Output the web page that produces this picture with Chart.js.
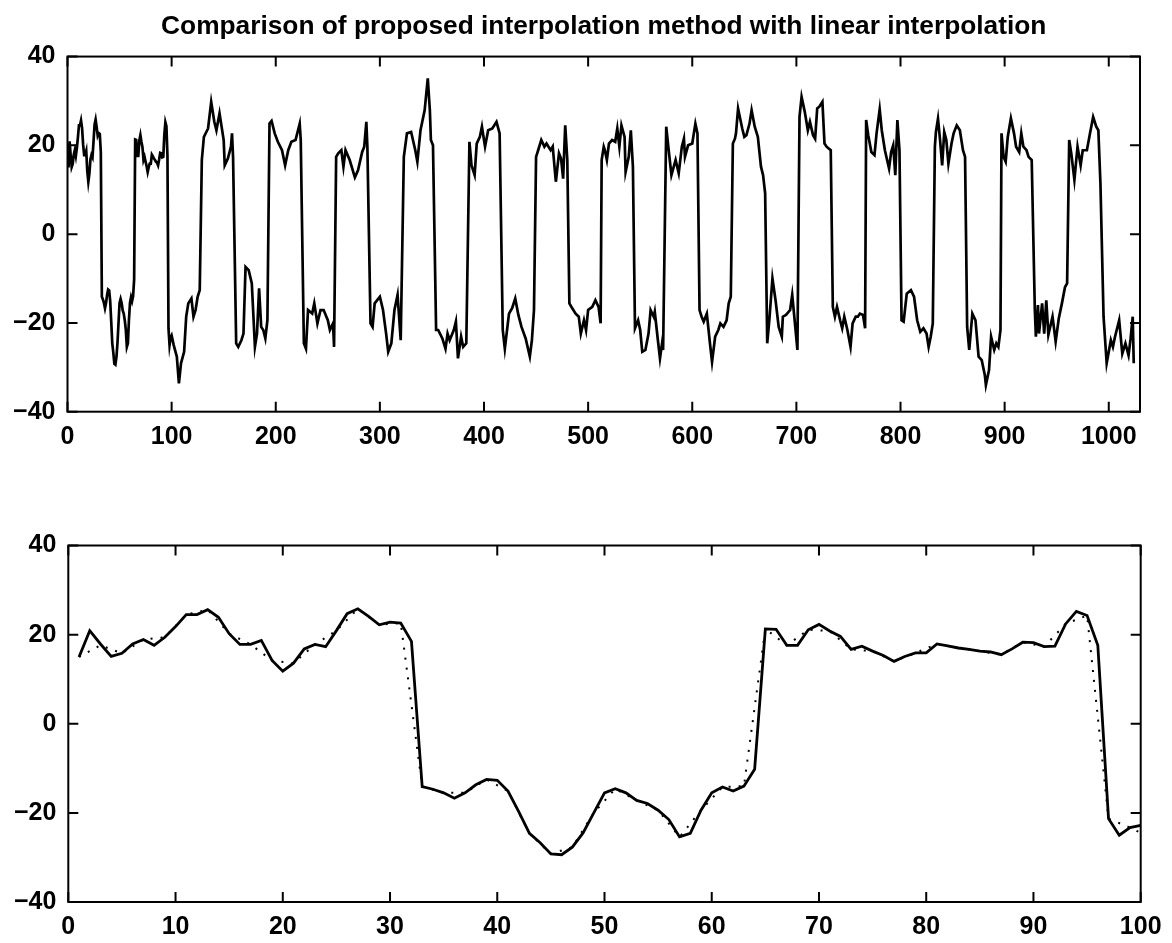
<!DOCTYPE html>
<html>
<head>
<meta charset="utf-8">
<script src="https://cdn.jsdelivr.net/npm/chart.js@4.4.1/dist/chart.umd.min.js"></script>
<style>
  body { margin: 0; background: #fff; }
  canvas { position: absolute; left: 0; }
  #topChart { top: 0; }
  #bottomChart { top: 470px; }
</style>
</head>
<body>
<canvas id="topChart" width="1172" height="470"></canvas>
<canvas id="bottomChart" width="1172" height="473"></canvas>
<script>
// first 100 samples (bottom plot, solid = proposed method)
const sampleY = [15, 20.9, 17.9, 15.1, 15.8, 17.9, 18.9, 17.6, 19.4, 21.8,
  24.5, 24.5, 25.6, 23.9, 20.2, 17.8, 17.8, 18.7, 14.2, 11.8,
  13.6, 16.8, 17.8, 17.3, 20.9, 24.7, 25.8, 24.1, 22.2, 22.8,
  22.6, 18.5, -14.1, -14.7, -15.5, -16.7, -15.5, -13.7, -12.5, -12.7,
  -15.1, -19.7, -24.6, -26.7, -29.2, -29.4, -27.7, -24.5, -20, -15.5,
  -14.6, -15.5, -17.2, -17.9, -19.4, -21.5, -25.4, -24.6, -19.4, -15.5,
  -14.2, -15.1, -14, -10.2, 21.3, 21.2, 17.6, 17.6, 21.1, 22.3,
  20.8, 19.6, 16.7, 17.4, 16.3, 15.3, 14, 15.1, 15.9, 15.9,
  17.9, 17.5, 17, 16.7, 16.3, 16.1, 15.5, 16.8, 18.3, 18.2,
  17.3, 17.4, 22.4, 25.2, 24.3, 17.6, -21.3, -25, -23.3, -22.8];
const sampleX = sampleY.map((v, i) => i + 1);

// linear interpolation through every second sample (dotted)
const linX = [1, 3, 5, 7, 9, 11, 13, 15, 17, 19, 21, 23, 25, 27, 29, 31, 33, 35, 37, 39,
  41, 43, 45, 47, 49, 51, 53, 55, 57, 59, 61, 63, 65, 67, 69, 71, 73, 75, 77, 79,
  81, 83, 85, 87, 89, 91, 93, 95, 97, 99, 100];
const linY = [15, 17.6, 15.8, 18.9, 19.4, 24.5, 25.6, 20.2, 17.8, 14.2, 13.6, 17.8, 20.9, 25.8, 22.2, 22.6, -14.1, -15.5, -15.5, -12.5,
  -15.1, -24.6, -29.2, -27.7, -20, -14.6, -17.2, -19.4, -25.4, -19.4, -14.2, -14, 21.3, 17.6, 21.1, 20.8, 16.7, 16.3, 14, 15.9,
  17.9, 17, 16.3, 15.5, 18.3, 17.3, 22.4, 24.3, -21.3, -23.3, -24.5];

// rest of the full signal (top plot), read at its turning points
const restX = [
  102, 105, 107, 109, 112, 114, 116, 119, 121, 123, 125, 127,
  129, 131, 135, 138, 141, 143, 146, 150, 151, 154, 157, 158, 159,
  162, 164, 167, 169, 171, 174, 177, 180, 182, 184, 186, 188, 190, 192,
  194, 196, 199, 202, 206, 209, 212, 215, 219, 223, 224,
  227, 229, 231, 235, 237, 240, 243, 246, 250, 252, 255, 256,
  258, 260, 263, 265, 267, 271, 276, 279, 283, 285, 287, 288,
  291, 293, 295, 300, 303, 306, 308, 311, 314, 317, 318, 320,
  323, 326, 330, 334, 336, 339, 342, 343, 346, 348, 349, 351,
  354, 356, 360, 363, 365, 367, 371, 373, 375, 378, 380, 383,
  386, 388, 391, 393, 396, 398, 401, 404, 408, 412, 415,
  418, 420, 424, 427, 430, 433, 436, 440, 444, 446, 448,
  450, 452, 455, 458, 460, 464, 466, 469, 472, 474, 476, 478, 480,
  482, 484, 488, 491, 493, 496, 498, 500, 504, 507, 510, 512,
  513, 515, 516, 518, 520, 523, 526, 528, 530, 532, 535, 536, 539, 541, 543,
  545, 548, 550, 552, 555, 558, 560, 563, 564, 567, 569, 571, 572,
  575, 577, 580, 584, 587, 590, 592, 593, 596, 600, 603, 605,
  607, 609, 611, 614, 617, 619, 622, 625, 627, 630, 633, 635, 637,
  639, 641, 642, 644, 648, 650, 652, 655, 657, 660, 663, 666, 668, 670,
  672, 674, 677, 680, 683, 686, 687, 690, 694, 696, 698, 701,
  703, 705, 708, 711, 713, 716, 718, 720, 722, 725, 727, 729, 733,
  735, 737, 739, 742, 744, 746, 749, 752, 754, 757, 759, 761, 764, 766,
  767, 769, 772, 775, 777, 780, 782, 785, 789, 791, 793, 795, 797, 799,
  801, 803, 806, 810, 813, 816, 819, 822, 825, 827, 829, 831,
  833, 834, 836, 838, 840, 842, 844, 846, 849, 851, 854, 857, 860, 862,
  864, 866, 869, 872, 875, 878, 881, 882, 885, 887, 890, 892, 894, 896,
  897, 899, 901, 903, 906, 909, 911, 914, 916, 918, 921, 923, 926,
  929, 930, 932, 933, 936, 938, 940, 942, 946, 949, 952, 955, 958, 960,
  962, 964, 967, 970, 973, 975, 979, 982, 985, 988, 990, 992,
  995, 998, 1002, 1004, 1006, 1010, 1013, 1016, 1019, 1021, 1023, 1024];
const restY = [
  -25, -27.6, -33.6, -29.1, -26.5, -18.6, -15.6, -14.5, -18.6, -17.1, -14.1, -12.6,
  16.7, 21.9, 23.8, 29.8, 25.3, 23.4, 27.2, 21.2, 15.5, 17, 19.7, 22.7, 17.4,
  -24.6, -25.4, -23.9, -22.4, -7.4, -8.1, -11.1, -25.4, -22.4, -12.2, -20.9, -21.6, -23.5, -19.4,
  24.9, 25.5, 22.7, 20.8, 18.9, 15.5, 18.9, 20.8, 21.2, 24.9, 21.2,
  -24.6, -25.8, -17.1, -17.9, -15.6, -20.1, -17.1, -17.1, -19.4, -21.6, -20.1, -25.4,
  17.4, 18.2, 18.9, 15.2, 18.9, 16.7, 12.8, 14.4, 18.5, 19.7, 25.3, 19.7,
  -20.1, -20.9, -15.6, -14.1, -17.1, -22.4, -26.5, -24.6, -17.1, -13.7, -17.1, -23.9,
  17.4, 22.7, 23, 18.9, 16.3, 23.4, 26.8, 27.9, 35.1, 27.9, 21.2, 20,
  -21.6, -21.6, -23.5, -25.8, -22.4, -23.9, -21.6, -19.7, -28, -23.1, -25.4, -24.6,
  20.8, 15.5, 13.3, 20.4, 21.9, 24.2, 19.7, 23.4, 23.8, 25.3, 22.7,
  -21.6, -25.8, -17.9, -16.7, -14.5, -18.2, -20.9, -23.5, -27.6, -23.9, -17.1,
  17.4, 18.9, 21.2, 19.7, 20.4, 18.9, 19.7, 11.8, 18.2, 17, 12.5, 24.5, 16.7,
  -15.6, -16.4, -17.9, -18.6, -22.4, -19.4, -21.6, -17.1, -16.4, -14.9, -16.4, -20.1,
  16.7, 19.7, 19, 16.7, 20.4, 21.2, 20.8, 23.8, 19.7, 24.5, 21.9, 14, 17.4, 23.4, 15.2,
  -21.2, -19.4, -21.6, -26.5, -26.1, -22.4, -17.1, -18.6, -17.5, -23.9, -28, -24.6, -26.1,
  24.2, 19.7, 13.3, 16.7, 13.7, 19.7, 21.5, 17.4, 20, 20.4, 24.9, 22.7,
  -17.1, -18.6, -19.7, -17.9, -24.6, -28.8, -23.1, -21.6, -20.1, -20.9, -19.4, -15.6, -14.1,
  20.4, 21.5, 22.7, 28.3, 23.8, 21.9, 22.3, 24.9, 27.9, 24.2, 21.9, 15.2, 13.3, 9.2,
  -24.6, -19.4, -10, -14.9, -20.9, -23.1, -18.6, -18.2, -17.1, -13.7, -18.6, -26.1,
  26.4, 30.9, 27.6, 23.4, 25.3, 22.3, 21.5, 28.3, 28.7, 29.8, 20.4, 19.7, 18.9,
  -16.4, -18.6, -16.4, -19.4, -21.2, -18.6, -21.6, -25.4, -20.1, -18.6, -18.6, -17.9, -18.2, -21.2,
  25.7, 22.3, 18.5, 17.8, 22.7, 28.1, 23.4, 18.9, 14.8, 18.5, 20, 13.3, 25.7, 18.9,
  -19.4, -19.7, -13.4, -12.6, -14.1, -19.4, -22, -21.2, -22.4, -25.4, -23.1, -20.1,
  19.7, 23, 26, 21.2, 15.5, 23, 21.2, 15.9, 20.4, 22.7, 24.5, 23.4, 18.9, 17.4,
  -20.9, -26.1, -17.9, -19.4, -27.6, -28.4, -31.8, -34, -30.6, -23.1, -26.1, -24.6, -25.4, -21.6,
  22.7, 17.4, 16.3, 21.9, 26.1, 22.7, 19.7, 18.5, 22.7, 19.7, 18.9, 17.4, 16.7,
  -17.1, -23.1, -16, -22.4, -15.6, -22.4, -14.9, -22.7, -18.6, -24.2, -19, -15.6, -11.9, -11.1,
  21.2, 18.2, 12.2, 19.7, 15.5, 18.9, 18.9, 22.7, 26.4, 24.2, 23.4, 11.4,
  -18.6, -29.1, -23.9, -25.4, -23.1, -19.4, -26.9, -24.6, -27.3, -23.5, -18.6, -29.1];

const yTicks = [-40, -20, 0, 20, 40];
const topXTicks = [0, 100, 200, 300, 400, 500, 600, 700, 800, 900, 1000];
const bottomXTicks = [0, 10, 20, 30, 40, 50, 60, 70, 80, 90, 100];

const titleText = "Comparison of proposed interpolation method with linear interpolation";
const fontFamily = "'Liberation Sans', Arial, Helvetica, sans-serif";

function toPoints(xs, ys) {
  return xs.map((x, i) => ({ x: x, y: ys[i] }));
}

// plain numbers, with a real minus sign like the original print
function tickText(v) {
  return v < 0 ? "\u2212" + Math.abs(v) : String(v);
}

// matlab style box with ticks pointing inward on all four sides
const boxTicks = {
  id: "boxTicks",
  afterDraw(chart) {
    const { ctx, chartArea: a, scales } = chart;
    const len = 10;
    ctx.save();
    ctx.strokeStyle = "#000";
    ctx.lineWidth = 2;
    ctx.strokeRect(a.left, a.top, a.right - a.left, a.bottom - a.top);
    ctx.beginPath();
    scales.x.ticks.forEach((t) => {
      const px = scales.x.getPixelForValue(t.value);
      ctx.moveTo(px, a.bottom);
      ctx.lineTo(px, a.bottom - len);
      ctx.moveTo(px, a.top);
      ctx.lineTo(px, a.top + len);
    });
    scales.y.ticks.forEach((t) => {
      const py = scales.y.getPixelForValue(t.value);
      ctx.moveTo(a.left, py);
      ctx.lineTo(a.left + len, py);
      ctx.moveTo(a.right, py);
      ctx.lineTo(a.right - len, py);
    });
    ctx.stroke();
    ctx.restore();
  },
};

function axes(xMax, xTicks, yWidth, xHeight) {
  const tickFont = { family: fontFamily, size: 25, weight: "bold" };
  return {
    x: {
      type: "linear",
      min: 0,
      max: xMax,
      grid: { display: false, drawTicks: false },
      border: { display: false },
      ticks: {
        color: "#000", font: tickFont, padding: 10, maxRotation: 0, autoSkip: false,
        callback: tickText,
      },
      afterBuildTicks: (s) => { s.ticks = xTicks.map((v) => ({ value: v })); },
      afterFit: (s) => { s.height = xHeight; },
    },
    y: {
      type: "linear",
      min: -40,
      max: 40,
      grid: { display: false, drawTicks: false },
      border: { display: false },
      ticks: { color: "#000", font: tickFont, padding: 12, callback: tickText },
      afterBuildTicks: (s) => { s.ticks = yTicks.map((v) => ({ value: v })); },
      afterFit: (s) => { s.width = yWidth; },
    },
  };
}

new Chart(document.getElementById("topChart"), {
  type: "line",
  data: {
    datasets: [
      {
        data: toPoints(sampleX.concat(restX), sampleY.concat(restY)),
        borderColor: "#000",
        borderWidth: 2.7,
        pointRadius: 0,
        tension: 0,
      },
    ],
  },
  options: {
    responsive: false,
    animation: false,
    layout: { padding: { left: 0, right: 32, top: 0, bottom: 0 } },
    plugins: {
      legend: { display: false },
      tooltip: { enabled: false },
      title: {
        display: true,
        fullSize: false, // centre over the plot box, not the whole canvas
        text: titleText,
        color: "#000",
        font: { family: fontFamily, size: 26.3, weight: "bold" },
        padding: { top: 10.5, bottom: 14.5 },
      },
    },
    scales: axes(1030, topXTicks, 67.5, 58.3),
  },
  plugins: [boxTicks],
});

new Chart(document.getElementById("bottomChart"), {
  type: "line",
  data: {
    datasets: [
      {
        data: toPoints(linX, linY),
        borderColor: "#000",
        borderWidth: 2,
        borderDash: [2, 8],
        pointRadius: 0,
        tension: 0,
      },
      {
        data: toPoints(sampleX, sampleY),
        borderColor: "#000",
        borderWidth: 2.8,
        pointRadius: 0,
        tension: 0,
      },
    ],
  },
  options: {
    responsive: false,
    animation: false,
    layout: { padding: { left: 0, right: 31.3, top: 75.5, bottom: 0 } },
    plugins: {
      legend: { display: false },
      tooltip: { enabled: false },
    },
    scales: axes(100, bottomXTicks, 68.3, 41),
  },
  plugins: [boxTicks],
});
</script>
</body>
</html>
